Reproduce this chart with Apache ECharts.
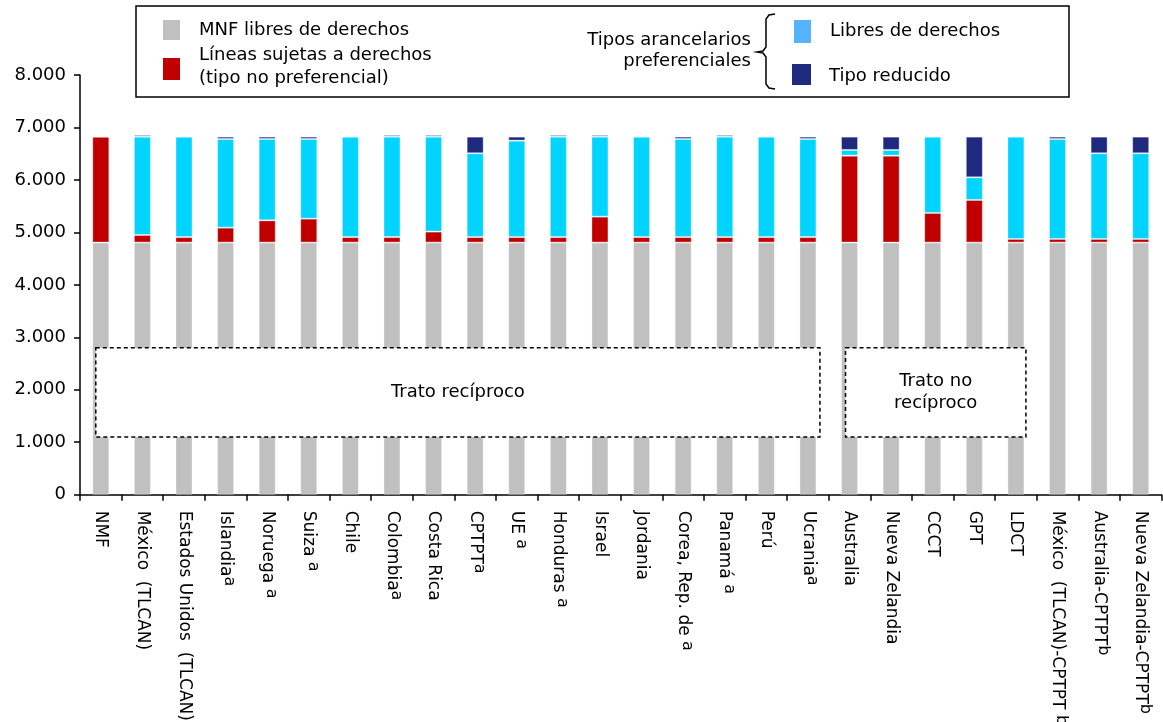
<!DOCTYPE html>
<html>
<head>
<meta charset="utf-8">
<script src="https://cdn.jsdelivr.net/npm/echarts@6/dist/echarts.min.js"></script>
<style>html,body{margin:0;padding:0;background:#fff;}#c{width:1163px;height:722px;}</style>
</head>
<body>
<div id="c"></div>
<script>
// ---- data ----
const categories = ['NMF','México  (TLCAN)','Estados Unidos  (TLCAN)','Islandia','Noruega ','Suiza ','Chile','Colombia','Costa Rica','CPTPT','UE ','Honduras ','Israel','Jordania','Corea, Rep. de ','Panamá ','Perú','Ucrania','Australia','Nueva Zelandia','CCCT','GPT','LDCT','México  (TLCAN)-CPTPT ','Australia-CPTPT','Nueva Zelandia-CPTPT'];
const superscripts = ['','','','a','a','a','','a','','a','a','a','','','a','a','','a','','','','','','b','b','b'];
const mnfFree   = [4805,4805,4805,4805,4805,4805,4805,4805,4805,4805,4805,4805,4805,4805,4805,4805,4805,4805,4805,4805,4805,4805,4805,4805,4805,4805];
const dutiable  = [2020,145,105,285,425,457,105,105,210,105,105,105,495,105,105,105,105,105,1658,1658,565,813,70,70,70,70];
const prefFree  = [0,1875,1915,1690,1550,1518,1915,1915,1810,1598,1839,1915,1525,1915,1870,1915,1915,1870,108,108,1455,432,1950,1905,1633,1633];
const prefReduced = [0,32,0,45,45,45,0,32,32,317,76,32,32,0,45,32,0,45,254,254,0,775,0,45,317,317];
const yTicks = [0,1000,2000,3000,4000,5000,6000,7000,8000];
const seriesNames = ['MNF libres de derechos','Líneas sujetas a derechos (tipo no preferencial)','Libres de derechos','Tipo reducido'];
const annotations = [
  {text:'Trato recíproco', from:'NMF', to:'Ucrania', low:1100, high:2800},
  {text:'Trato no\nrecíproco', from:'Australia', to:'LDCT', low:1100, high:2800}
];

// ---- chart ----
const FONT = 'DejaVu Sans';
const colors = {gray:'#C0C0C0', red:'#C00000', cyan:'#00D4FF', navy:'#1F2A7E', legendBlue:'#55B3FF'};
const chart = echarts.init(document.getElementById('c'), null, {renderer:'canvas'});

function mkSeries(name, data, color){
  return {name, type:'bar', stack:'t', data, barWidth:17,
    itemStyle:{color, borderColor:'rgba(255,255,255,0.35)', borderWidth:1},
    emphasis:{disabled:true}, animation:false};
}

chart.setOption({
  animation:false,
  textStyle:{fontFamily:FONT},
  grid:{left:80, right:1.5, top:75, bottom:227.3, containLabel:false, outerBoundsMode:'none'},
  xAxis:{type:'category', data:categories,
    axisLine:{lineStyle:{color:'#000', width:1.5}},
    axisTick:{show:true, length:6, lineStyle:{color:'#000', width:1.5}},
    axisLabel:{rotate:-90, interval:0, margin:16, color:'#000', fontFamily:FONT, fontSize:17,
      formatter:(v, i)=> superscripts[i] ? '{n|'+v+'}{s|'+superscripts[i]+'}' : '{n|'+v+'}',
      rich:{n:{fontSize:17, fontFamily:FONT, color:'#000', lineHeight:24},
            s:{fontSize:16, fontFamily:FONT, color:'#000', verticalAlign:'top', lineHeight:10}}}
  },
  yAxis:{type:'value', min:yTicks[0], max:yTicks[yTicks.length-1], interval:1000,
    splitLine:{show:false},
    axisLine:{show:true, lineStyle:{color:'#000', width:1.5}},
    axisTick:{show:true, length:6, lineStyle:{color:'#000', width:1.5}},
    axisLabel:{margin:14, color:'#000', fontSize:18, fontFamily:FONT,
      formatter:v=> String(v).replace(/\B(?=(\d{3})+(?!\d))/g,'.')}
  },
  series:[
    mkSeries(seriesNames[0], mnfFree, colors.gray),
    mkSeries(seriesNames[1], dutiable, colors.red),
    mkSeries(seriesNames[2], prefFree, colors.cyan),
    mkSeries(seriesNames[3], prefReduced, colors.navy)
  ]
});

// ---- annotation boxes anchored to axes ----
const g = [];
annotations.forEach((a,k)=>{
  const i0 = categories.indexOf(a.from), i1 = categories.indexOf(a.to);
  const p0 = chart.convertToPixel({xAxisIndex:0,yAxisIndex:0},[i0,a.high]);
  const p1 = chart.convertToPixel({xAxisIndex:0,yAxisIndex:0},[i1,a.low]);
  const x0 = p0[0] - (k===0?5:4), x1 = p1[0] + (k===0?12:10);
  g.push({type:'rect', shape:{x:x0, y:p0[1], width:x1-x0, height:p1[1]-p0[1]}, z:100,
    style:{fill:'#fff', stroke:'#000', lineWidth:1.5, lineDash:[4,3]}});
  g.push({type:'text', x:(x0+x1)/2, y:(p0[1]+p1[1])/2, z:101,
    style:{text:a.text, fill:'#000', font:'18px "'+FONT+'"', align:'center', verticalAlign:'middle', lineHeight:22}});
});

// ---- custom legend ----
const lf = '18px "'+FONT+'"';
g.push({type:'rect', shape:{x:136, y:6, width:933, height:91}, z:100, style:{fill:'#fff', stroke:'#000', lineWidth:1.5}});
g.push({type:'rect', shape:{x:163, y:20, width:17, height:20}, z:101, style:{fill:colors.gray}});
g.push({type:'text', x:199, y:30, z:101, style:{text:seriesNames[0], fill:'#000', font:lf, verticalAlign:'middle'}});
g.push({type:'rect', shape:{x:163, y:58, width:17, height:22}, z:101, style:{fill:colors.red}});
g.push({type:'text', x:199, y:67, z:101, style:{text:'Líneas sujetas a derechos\n(tipo no preferencial)', fill:'#000', font:lf, verticalAlign:'middle', lineHeight:23}});
g.push({type:'text', x:751, y:51, z:101, style:{text:'Tipos arancelarios\npreferenciales', fill:'#000', font:lf, align:'right', verticalAlign:'middle', lineHeight:21}});
g.push({type:'polyline', z:101, shape:{points:[[775,14],[769,15],[766,19],[766,47],[763,51],[757,52],[763,53],[766,57],[766,84],[769,88],[775,89]]},
  style:{fill:null, stroke:'#000', lineWidth:1.5}});
g.push({type:'rect', shape:{x:794, y:20, width:17, height:23}, z:101, style:{fill:colors.legendBlue}});
g.push({type:'text', x:830, y:31, z:101, style:{text:seriesNames[2], fill:'#000', font:lf, verticalAlign:'middle'}});
g.push({type:'rect', shape:{x:792, y:64, width:19, height:21}, z:101, style:{fill:colors.navy}});
g.push({type:'text', x:829, y:76, z:101, style:{text:seriesNames[3], fill:'#000', font:lf, verticalAlign:'middle'}});

chart.setOption({graphic:g});
</script>
</body>
</html>
